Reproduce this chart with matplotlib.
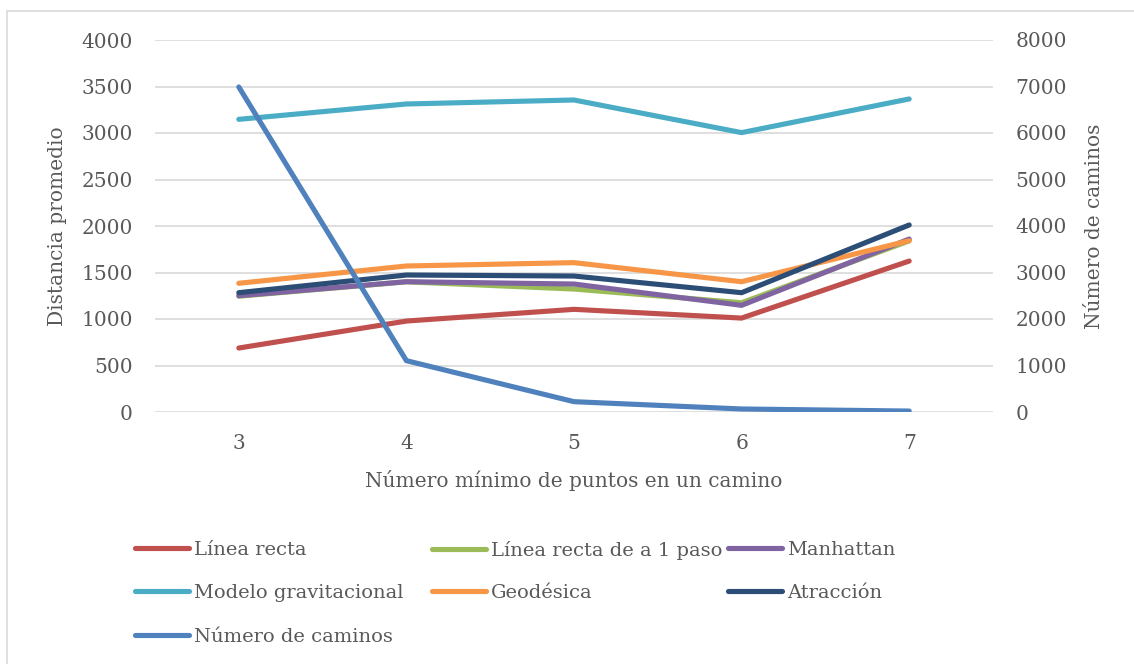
import matplotlib.pyplot as plt
from matplotlib.patches import Rectangle

# data
puntos = [3, 4, 5, 6, 7]
linea_recta = [688, 978, 1104, 1010, 1623]
linea_recta_1paso = [1245, 1400, 1322, 1175, 1840]
manhattan = [1250, 1401, 1376, 1147, 1860]
modelo_grav = [3147, 3312, 3355, 3004, 3366]
geodesica = [1384, 1570, 1606, 1401, 1842]
atraccion = [1283, 1473, 1462, 1283, 2011]
num_caminos = [6990, 1104, 222, 65, 20]

GRAY = "#595959"
W, H = 1134, 664

plt.rcParams["font.family"] = ["DejaVu Serif"]

fig = plt.figure(figsize=(W / 100, H / 100), dpi=100)
ax = fig.add_axes([155 / W, 1 - 412 / H, (993 - 155) / W, (412 - 40) / H])
ax2 = ax.twinx()

fig.patches.append(Rectangle((7 / W, -0.1), 1.2, 1 - 11 / H + 0.1, transform=fig.transFigure,
                             fill=False, edgecolor="#d9d9d9", linewidth=1.2))

x = list(range(len(puntos)))
lw = 3.7
kw = dict(linewidth=lw, solid_capstyle="round", solid_joinstyle="miter")
h_lr, = ax.plot(x, linea_recta, color="#C0504D", label="Línea recta", **kw)
h_lr1, = ax.plot(x, linea_recta_1paso, color="#9BBB59", label="Línea recta de a 1 paso", **kw)
h_man, = ax.plot(x, manhattan, color="#8064A2", label="Manhattan", **kw)
h_mg, = ax.plot(x, modelo_grav, color="#4BACC6", label="Modelo gravitacional", **kw)
h_geo, = ax.plot(x, geodesica, color="#F79646", label="Geodésica", **kw)
h_atr, = ax.plot(x, atraccion, color="#2C4D75", label="Atracción", **kw)
h_nc, = ax2.plot(x, num_caminos, color="#4F81BD", label="Número de caminos", **kw)

ax.set_xlim(-0.5, len(puntos) - 0.5)
ax.set_ylim(0, 4000)
ax2.set_ylim(0, 8000)
ax.set_yticks(range(0, 4001, 500))
ax2.set_yticks(range(0, 8001, 1000))
ax.set_xticks(x)
ax.set_xticklabels([str(p) for p in puntos])
ax.grid(axis="y", color="#d9d9d9", linewidth=1.2)
ax.set_axisbelow(True)

for a in (ax, ax2):
    for s in a.spines.values():
        s.set_visible(False)
    a.tick_params(length=0, labelsize=14.5, labelcolor=GRAY, pad=16)

ax.set_ylabel("Distancia promedio", fontsize=14.5, color=GRAY, labelpad=10)
ax2.set_ylabel("Número de caminos", fontsize=14.5, color=GRAY, labelpad=13)
ax.set_xlabel("Número mínimo de puntos en un camino", fontsize=14.5, color=GRAY, labelpad=12)

# legend: 3 columns x 3 rows, one small legend per entry so rows line up
col_x = [135, 432, 728]
row_y = [550, 593, 637]
grid = [[h_lr, h_lr1, h_man], [h_mg, h_geo, h_atr], [h_nc]]
for r, row in enumerate(grid):
    for c, h in enumerate(row):
        leg = fig.legend(handles=[h], loc="center left",
                         bbox_to_anchor=(col_x[c] / W, 1 - row_y[r] / H),
                         frameon=False, fontsize=14, handlelength=2.8, handletextpad=0.25,
                         borderaxespad=0, borderpad=0)
        for t in leg.get_texts():
            t.set_color(GRAY)

fig.savefig("out.png", dpi=100)
